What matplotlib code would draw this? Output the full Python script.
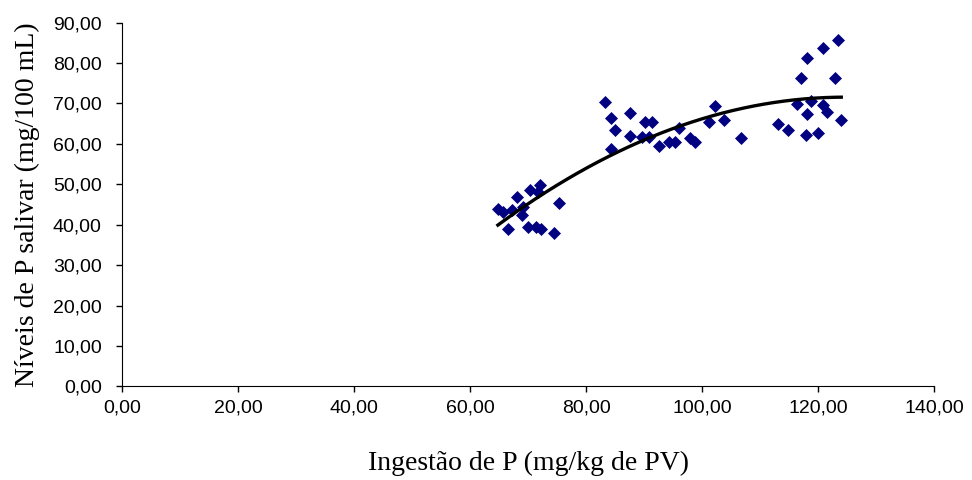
import numpy as np
import matplotlib.pyplot as plt

# ingestao de P (mg/kg PV) x niveis de P salivar (mg/100 mL)
ingestao = [64.8, 65.7, 67.3, 68.1, 69.1, 69.0, 70.3, 72.1, 71.7, 66.5, 70.0, 71.3,
            72.2, 74.5, 75.3,
            83.3, 84.3, 85.0, 84.3, 87.6, 87.5, 90.2, 91.4, 89.7, 90.9, 92.5,
            94.3, 95.3, 96.0, 98.0, 98.8, 102.2, 101.2, 103.8, 106.7,
            123.4, 120.9, 118.1, 117.0, 122.9, 116.4, 118.7, 120.9, 121.5,
            118.1, 124.0, 113.1, 114.9, 117.9, 120.0]
salivar = [43.9, 43.2, 43.6, 46.9, 44.4, 42.4, 48.6, 49.8, 48.1, 39.0, 39.4, 39.5,
           38.9, 37.9, 45.3,
           70.3, 66.4, 63.5, 58.7, 67.6, 62.0, 65.4, 65.4, 61.7, 61.7, 59.5,
           60.4, 60.4, 64.0, 61.5, 60.5, 69.4, 65.3, 65.8, 61.5,
           85.7, 83.7, 81.2, 76.3, 76.3, 69.8, 70.7, 69.6, 67.9,
           67.4, 66.0, 65.0, 63.5, 62.2, 62.7]

x = np.array(ingestao)
y = np.array(salivar)

fig = plt.figure(figsize=(9.72, 4.8), dpi=100)
ax = fig.add_axes([0.1255, 0.195, 0.8355, 0.758])

ax.scatter(x, y, marker='D', s=44, color='#000080', zorder=3, linewidths=0)

# linha de tendencia polinomial de 2a ordem
coef = np.polyfit(x, y, 2)
xs = np.linspace(x.min(), x.max(), 200)
ax.plot(xs, np.polyval(coef, xs), color='black', linewidth=2.4, zorder=4)

ax.set_xlim(0, 140)
ax.set_ylim(0, 90)
xt = np.arange(0, 141, 20)
yt = np.arange(0, 91, 10)
ax.set_xticks(xt)
ax.set_yticks(yt)
fmt = lambda v: f"{v:.2f}".replace('.', ',')
ax.set_xticklabels([fmt(v) for v in xt], family='Liberation Sans', fontsize=14)
ax.set_yticklabels([fmt(v) for v in yt], family='Liberation Sans', fontsize=14)
ax.tick_params(direction='out', length=4.5, width=1, color='black')
ax.tick_params(axis='x', pad=5)
ax.tick_params(axis='y', pad=10)

for s in ['top', 'right']:
    ax.spines[s].set_visible(False)
for s in ['left', 'bottom']:
    ax.spines[s].set_color('black')

ax.set_xlabel('Ingestão de P (mg/kg de PV)', family='Liberation Serif', fontsize=20, labelpad=25)
ax.set_ylabel('Níveis de P salivar (mg/100 mL)', family='Liberation Serif', fontsize=20, labelpad=9)

fig.savefig('out.png', dpi=100)
